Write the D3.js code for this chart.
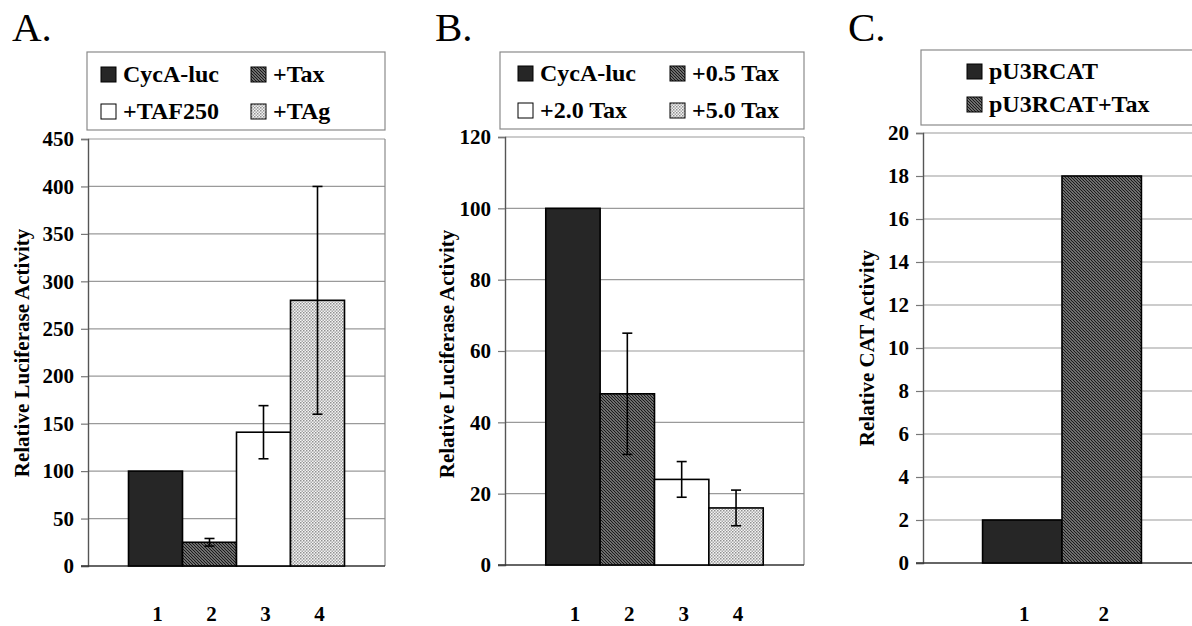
<!DOCTYPE html>
<html>
<head>
<meta charset="utf-8">
<script src="https://cdn.jsdelivr.net/npm/d3@7"></script>
<style>
  body { margin: 0; background: #fff; }
  svg text { font-family: 'Liberation Serif', 'Times New Roman', serif; }
</style>
</head>
<body>
<svg id="chart" width="1192" height="626"></svg>
<script>
// data
const lanesA = ['1', '2', '3', '4']
const valuesA = [100, 25, 141, 280]
const errorsA = [0, 4, 28, 120]
const legendA = ['CycA-luc', '+Tax', '+TAF250', '+TAg']
const ticksA = [0, 50, 100, 150, 200, 250, 300, 350, 400, 450]

const lanesB = ['1', '2', '3', '4']
const valuesB = [100, 48, 24, 16]
const errorsB = [0, 17, 5, 5]
const legendB = ['CycA-luc', '+0.5 Tax', '+2.0 Tax', '+5.0 Tax']
const ticksB = [0, 20, 40, 60, 80, 100, 120]

const lanesC = ['1', '2']
const valuesC = [2, 18]
const legendC = ['pU3RCAT', 'pU3RCAT+Tax']
const ticksC = [0, 2, 4, 6, 8, 10, 12, 14, 16, 18, 20]

const svg = d3.select('#chart')

// fills
const defs = svg.append('defs')
const hatch = defs.append('pattern')
    .attr('id', 'hatch')
    .attr('patternUnits', 'userSpaceOnUse')
    .attr('width', 3)
    .attr('height', 3)
hatch.append('rect').attr('width', 3).attr('height', 3).attr('fill', '#b0b0b0')
hatch.append('path')
    .attr('d', 'M-1,-1 L4,4 M-1,2 L1,4 M2,-1 L4,1')
    .attr('stroke', '#1a1a1a').attr('stroke-width', 1.3)

const dots = defs.append('pattern')
    .attr('id', 'dots')
    .attr('patternUnits', 'userSpaceOnUse')
    .attr('width', 3)
    .attr('height', 3)
dots.append('rect').attr('width', 3).attr('height', 3).attr('fill', '#f4f4f4')
dots.append('rect').attr('width', 1.5).attr('height', 1.5).attr('fill', '#909090')
dots.append('rect').attr('x', 1.5).attr('y', 1.5).attr('width', 1.5).attr('height', 1.5).attr('fill', '#a8a8a8')

const fills = ['#262626', 'url(#hatch)', '#ffffff', 'url(#dots)']

const drawPanel = (cfg) => {
    const g = svg.append('g')

    g.append('text')
        .attr('x', cfg.titleX).attr('y', 41)
        .style('font-size', '41px')
        .text(cfg.title)

    // legend box
    g.append('rect')
        .attr('x', cfg.legend.x).attr('y', cfg.legend.y)
        .attr('width', cfg.legend.w).attr('height', cfg.legend.h)
        .attr('fill', '#fff').attr('stroke', '#8a8a8a').attr('stroke-width', 1.2)

    const item = g.append('g').selectAll('g')
        .data(cfg.legendNames.map((name, i) => ({ name, i })))
        .enter()
        .append('g')
        .attr('transform', ({ i }) => {
            const col = i % cfg.legend.cols
            const row = Math.floor(i / cfg.legend.cols)
            return `translate(${cfg.legend.x0 + col * cfg.legend.dx},${cfg.legend.y0 + row * cfg.legend.dy})`
        })
    item.append('rect')
        .attr('x', 0).attr('y', -15)
        .attr('width', 15).attr('height', 15)
        .attr('fill', ({ i }) => fills[i])
        .attr('stroke', '#000').attr('stroke-width', 1)
    item.append('text')
        .attr('x', 22).attr('y', 0)
        .style('font-size', '24px').style('font-weight', 'bold')
        .text(({ name }) => name)

    const { left, top, right, bottom } = cfg.plot
    const x = d3.scaleBand().domain(cfg.lanes).range([left, right]).paddingInner(0).paddingOuter(0.75)
    const y = d3.scaleLinear().domain([0, d3.max(cfg.ticks)]).range([bottom, top])

    // grid
    g.append('g').selectAll('line')
        .data(cfg.ticks.filter(t => t > 0))
        .enter()
        .append('line')
        .attr('x1', left).attr('x2', right)
        .attr('y1', d => y(d)).attr('y2', d => y(d))
        .attr('stroke', '#9a9a9a').attr('stroke-width', 1.2)

    // right border
    g.append('line')
        .attr('x1', right).attr('x2', right).attr('y1', top).attr('y2', bottom)
        .attr('stroke', '#8a8a8a').attr('stroke-width', 1.2)

    // y axis
    const axis = g.append('g')
        .attr('transform', `translate(${left},0)`)
        .call(d3.axisLeft(y).tickValues(cfg.ticks).tickSize(7).tickPadding(7))
    axis.select('.domain').attr('stroke', '#555').attr('stroke-width', 1.4)
    axis.selectAll('.tick line').attr('stroke', '#777').attr('stroke-width', 1.2)
    axis.selectAll('.tick text')
        .attr('fill', '#000')
        .style('font-family', "'Liberation Serif', serif")
        .style('font-size', '21px').style('font-weight', 'bold')

    // baseline
    g.append('line')
        .attr('x1', left - 7).attr('x2', right).attr('y1', y(0)).attr('y2', y(0))
        .attr('stroke', '#333').attr('stroke-width', 1.6)

    // bars
    const rows = cfg.lanes.map((lane, i) => ({ lane, val: cfg.values[i], err: cfg.errors ? cfg.errors[i] : 0, i }))
    g.append('g').selectAll('rect')
        .data(rows)
        .enter()
        .append('rect')
        .attr('x', ({ lane }) => x(lane))
        .attr('y', ({ val }) => y(val))
        .attr('width', x.bandwidth())
        .attr('height', ({ val }) => y(0) - y(val))
        .attr('fill', ({ i }) => fills[i])
        .attr('stroke', '#000').attr('stroke-width', 1.6)

    // error bars
    const eb = g.append('g').selectAll('g')
        .data(rows.filter(d => d.err > 0))
        .enter()
        .append('g')
        .attr('stroke', '#000').attr('stroke-width', 1.6)
    const cx = ({ lane }) => x(lane) + x.bandwidth() / 2
    eb.append('line')
        .attr('x1', cx).attr('x2', cx)
        .attr('y1', d => y(d.val - d.err)).attr('y2', d => y(d.val + d.err))
    ;[-1, 1].forEach(s => {
        eb.append('line')
            .attr('x1', d => cx(d) - 5).attr('x2', d => cx(d) + 5)
            .attr('y1', d => y(d.val + s * d.err)).attr('y2', d => y(d.val + s * d.err))
    })

    // lane numbers
    g.append('g').selectAll('text')
        .data(cfg.lanes)
        .enter()
        .append('text')
        .attr('x', d => x(d) + x.bandwidth() / 2 + 2)
        .attr('y', 621)
        .attr('text-anchor', 'middle')
        .style('font-size', '21px').style('font-weight', 'bold')
        .text(d => d)

    // y title
    g.append('text')
        .attr('transform', `translate(${cfg.yTitle.x},${cfg.yTitle.y}) rotate(-90)`)
        .attr('text-anchor', 'middle')
        .style('font-size', '21px').style('font-weight', 'bold')
        .text(cfg.yTitle.text)
}

drawPanel({
    title: 'A.', titleX: 12,
    lanes: lanesA, values: valuesA, errors: errorsA, ticks: ticksA, legendNames: legendA,
    plot: { left: 88, top: 139, right: 385, bottom: 566 },
    legend: { x: 87, y: 52, w: 298, h: 78, cols: 2, x0: 101, y0: 82, dx: 150, dy: 37 },
    yTitle: { x: 29, y: 353, text: 'Relative Luciferase Activity' }
})

drawPanel({
    title: 'B.', titleX: 435,
    lanes: lanesB, values: valuesB, errors: errorsB, ticks: ticksB, legendNames: legendB,
    plot: { left: 505, top: 137, right: 804, bottom: 565 },
    legend: { x: 500, y: 52, w: 304, h: 77, cols: 2, x0: 518, y0: 81, dx: 152, dy: 37 },
    yTitle: { x: 454, y: 354, text: 'Relative Luciferase Activity' }
})

drawPanel({
    title: 'C.', titleX: 848,
    lanes: lanesC, values: valuesC, errors: null, ticks: ticksC, legendNames: legendC,
    plot: { left: 923, top: 133, right: 1201, bottom: 563 },
    legend: { x: 921, y: 50, w: 290, h: 75, cols: 1, x0: 967, y0: 79, dx: 0, dy: 33 },
    yTitle: { x: 874, y: 348, text: 'Relative CAT Activity' }
})
</script>
</body>
</html>
